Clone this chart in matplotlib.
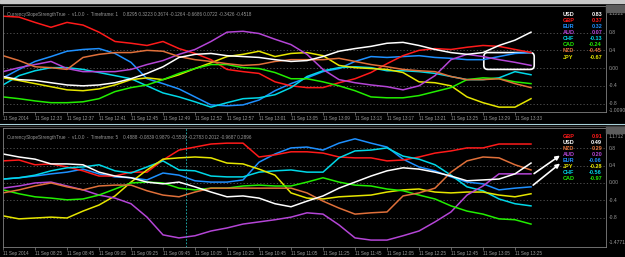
import numpy as np
import matplotlib.pyplot as plt
from matplotlib.patches import FancyBboxPatch, Rectangle

plt.rcParams['font.family'] = ['Liberation Sans', 'DejaVu Sans']

# one reading every second bar
bars = np.arange(34) * 2

# --- top window, timeframe M1 ---
m1_usd = [-0.19, -0.26, -0.28, -0.33, -0.38, -0.40, -0.38, -0.33, -0.24, -0.12, 0.03, 0.24, 0.31, 0.33, 0.28, 0.26, 0.24,
          0.19, 0.15, 0.17, 0.26, 0.38, 0.44, 0.49, 0.56, 0.58, 0.51, 0.42, 0.35, 0.31, 0.35, 0.51, 0.63, 0.81]
m1_gbp = [1.17, 1.15, 1.03, 0.92, 1.03, 0.97, 0.81, 0.60, 0.56, 0.51, 0.60, 0.44, 0.33, 0.19, -0.03, -0.08, -0.12,
          -0.31, -0.40, -0.44, -0.44, -0.33, -0.24, -0.10, 0.10, 0.28, 0.40, 0.44, 0.42, 0.47, 0.51, 0.49, 0.42, 0.35]
m1_eur = [-0.22, -0.03, 0.15, 0.26, 0.38, 0.42, 0.44, 0.33, 0.13, -0.24, -0.35, -0.47, -0.65, -0.83, -0.85, -0.83, -0.72,
          -0.51, -0.35, -0.22, -0.08, -0.01, 0.15, 0.26, 0.24, 0.26, 0.28, 0.24, 0.22, 0.19, 0.19, 0.26, 0.33, 0.35]
m1_aud = [-0.08, 0.01, 0.08, 0.15, -0.01, -0.08, -0.08, -0.08, -0.03, 0.08, 0.17, 0.31, 0.42, 0.60, 0.81, 0.83, 0.78,
          0.65, 0.53, 0.31, -0.03, -0.26, -0.33, -0.38, -0.42, -0.49, -0.40, -0.17, 0.19, 0.31, 0.26, 0.19, 0.13, 0.06]
m1_chf = [-0.38, -0.17, -0.06, 0.01, 0.01, -0.03, -0.10, -0.17, -0.24, -0.40, -0.56, -0.65, -0.76, -0.88, -0.78, -0.69, -0.67,
          -0.60, -0.44, -0.19, -0.06, 0.01, 0.03, 0.01, -0.06, -0.06, -0.08, -0.12, -0.19, -0.26, -0.26, -0.22, -0.08, -0.15]
m1_cad = [-0.65, -0.69, -0.74, -0.78, -0.78, -0.76, -0.69, -0.53, -0.44, -0.38, -0.26, -0.12, -0.01, 0.08, 0.08, 0.01, -0.01,
          -0.10, -0.24, -0.24, -0.31, -0.40, -0.51, -0.65, -0.67, -0.67, -0.62, -0.53, -0.44, -0.26, -0.22, -0.24, -0.31, -0.35]
m1_nzd = [0.28, 0.17, 0.03, 0.01, -0.03, 0.24, 0.31, 0.35, 0.35, 0.40, 0.38, 0.26, 0.19, 0.15, 0.10, 0.06, 0.08,
          0.15, 0.19, 0.19, 0.19, 0.22, 0.15, 0.08, 0.03, -0.03, -0.06, -0.08, -0.19, -0.26, -0.26, -0.24, -0.35, -0.44]
m1_jpy = [-0.22, -0.28, -0.35, -0.42, -0.49, -0.51, -0.47, -0.38, -0.26, -0.22, -0.26, -0.15, -0.01, 0.12, 0.26, 0.31, 0.38,
          0.26, 0.33, 0.35, 0.28, 0.06, 0.01, -0.01, -0.03, -0.10, -0.31, -0.33, -0.40, -0.65, -0.78, -0.88, -0.88, -0.69]

# --- bottom window, timeframe M5 ---
m5_usd = [0.67, 0.60, 0.55, 0.44, 0.44, 0.42, 0.25, 0.16, 0.12, 0.02, -0.02, 0.02, -0.09, -0.21, -0.32, -0.30, -0.35,
          -0.48, -0.55, -0.42, -0.30, -0.12, 0.02, 0.16, 0.28, 0.35, 0.32, 0.25, 0.16, 0.05, 0.07, 0.09, 0.21, 0.46]
m5_gbp = [0.51, 0.53, 0.42, 0.44, 0.37, 0.28, 0.16, 0.16, 0.25, 0.25, 0.53, 0.76, 0.83, 0.90, 0.92, 0.92, 0.60,
          0.65, 0.72, 0.72, 0.69, 0.60, 0.58, 0.58, 0.51, 0.53, 0.60, 0.69, 0.74, 0.81, 0.81, 0.90, 0.90, 0.90]
m5_eur = [0.09, 0.12, 0.16, 0.21, 0.25, 0.32, 0.21, 0.14, 0.12, 0.07, 0.23, 0.18, 0.05, 0.02, 0.02, 0.07, 0.48,
          0.67, 0.81, 0.83, 0.76, 0.92, 1.02, 0.92, 0.83, 0.55, 0.37, 0.28, 0.14, 0.02, -0.02, -0.16, -0.12, -0.09]
m5_aud = [-0.12, -0.07, 0.00, 0.02, -0.07, -0.16, -0.28, -0.35, -0.48, -0.79, -1.20, -1.27, -1.22, -1.11, -1.04, -0.95, -0.90,
          -0.85, -0.79, -0.69, -0.72, -0.97, -1.27, -1.32, -1.32, -1.22, -1.11, -0.90, -0.67, -0.28, -0.07, 0.21, 0.21, 0.21]
m5_chf = [0.09, 0.12, 0.18, 0.28, 0.35, 0.37, 0.42, 0.28, 0.23, 0.37, 0.51, 0.30, 0.28, 0.16, 0.14, 0.14, 0.25,
          0.28, 0.30, 0.25, 0.25, 0.58, 0.74, 0.76, 0.81, 0.62, 0.55, 0.42, 0.18, -0.09, -0.18, -0.37, -0.48, -0.53]
m5_cad = [-0.16, -0.25, -0.32, -0.35, -0.39, -0.37, -0.28, -0.14, 0.00, 0.02, 0.00, -0.12, -0.16, -0.12, -0.12, -0.07, -0.05,
          -0.07, -0.07, 0.02, 0.12, 0.02, -0.05, -0.07, -0.14, -0.18, -0.28, -0.37, -0.53, -0.65, -0.72, -0.83, -0.85, -0.95]
m5_nzd = [-0.23, -0.16, -0.07, 0.00, -0.09, -0.16, -0.07, -0.05, -0.05, -0.18, -0.28, -0.32, -0.21, -0.12, -0.12, -0.12, -0.12,
          -0.12, -0.12, -0.23, -0.42, -0.58, -0.72, -0.69, -0.67, -0.30, -0.23, -0.12, 0.25, 0.51, 0.60, 0.58, 0.42, 0.30]
m5_jpy = [-0.76, -0.83, -0.81, -0.79, -0.81, -0.65, -0.51, -0.30, 0.02, 0.30, 0.55, 0.58, 0.60, 0.58, 0.46, 0.44, 0.32,
          0.18, -0.23, -0.35, -0.37, -0.32, -0.30, -0.28, -0.21, -0.16, -0.14, -0.21, -0.23, -0.21, -0.21, -0.28, -0.32, -0.25]

top_names = ["USD", "GBP", "EUR", "AUD", "CHF", "CAD", "NZD", "JPY"]
top_values = ["0.83", "0.37", "0.32", "0.07", "-0.13", "-0.24", "-0.45", "-0.67"]
bot_names = ["GBP", "USD", "NZD", "AUD", "EUR", "JPY", "CHF", "CAD"]
bot_values = ["0.91", "0.49", "0.29", "0.20", "-0.06", "-0.28", "-0.56", "-0.97"]

top_times = ["11 Sep 2014", "11 Sep 12:33", "11 Sep 12:37", "11 Sep 12:41", "11 Sep 12:45", "11 Sep 12:49",
             "11 Sep 12:52", "11 Sep 12:57", "11 Sep 13:01", "11 Sep 13:05", "11 Sep 13:09", "11 Sep 13:13",
             "11 Sep 13:17", "11 Sep 13:21", "11 Sep 13:25", "11 Sep 13:29", "11 Sep 13:33"]
bot_times = ["11 Sep 2014", "11 Sep 08:25", "11 Sep 08:45", "11 Sep 09:05", "11 Sep 09:25", "11 Sep 09:45",
             "11 Sep 10:05", "11 Sep 10:25", "11 Sep 10:45", "11 Sep 11:05", "11 Sep 11:25", "11 Sep 11:45",
             "11 Sep 12:05", "11 Sep 12:25", "11 Sep 12:45", "11 Sep 13:05", "11 Sep 13:25"]

top_header = ("CurrencySlopeStrengthTrue  -  v1.0.0  -  Timeframe: 1    "
              "0.8295 0.3223 0.3674 -0.1264 -0.6686 0.0722 -0.3426 -0.4518")
bot_header = ("CurrencySlopeStrengthTrue  -  v1.0.0  -  Timeframe: 5    "
              "0.4888 -0.0839 0.9879 -0.5539 -0.2783 0.2012 -0.9687 0.2896")

colors = {
    "USD": "#ffffff", "GBP": "#ff1a1a", "EUR": "#1e90ff", "AUD": "#b445d6",
    "CHF": "#00d8e8", "CAD": "#22ee00", "NZD": "#e0703a", "JPY": "#e6e600",
}
GRAY = "#9a9a9a"
W, H = 625, 257

fig = plt.figure(figsize=(W / 100, H / 100), dpi=100, facecolor="black")


def px_axes(x0, y0, x1, y1):
    return fig.add_axes([x0 / W, 1 - y1 / H, (x1 - x0) / W, (y1 - y0) / H])


def draw_panel(ax, series, ylim, times, header, top_lbl, bot_lbl):
    ax.set_facecolor("black")
    for name in ["EUR", "GBP", "CHF", "JPY", "AUD", "CAD", "NZD", "USD"]:
        ax.plot(bars, series[name], color=colors[name], lw=1.1, solid_joinstyle="round")
    for lvl in [0.8, 0.4, 0.0, -0.4, -0.8]:
        ax.axhline(lvl, color="#5a5a5a", lw=0.6, ls=(0, (1.5, 2.5)), zorder=0)
        lab = "0.00" if lvl == 0 else f"{lvl:g}"
        ax.text(1.004, lvl, lab, transform=ax.get_yaxis_transform(), fontsize=3.6,
                color=GRAY, va="center", ha="left", clip_on=False)
    ax.text(1.004, top_lbl[1], top_lbl[0], transform=ax.transAxes, fontsize=3.6,
            color=GRAY, va="center", ha="left")
    ax.text(1.004, bot_lbl[1], bot_lbl[0], transform=ax.transAxes, fontsize=3.6,
            color=GRAY, va="center", ha="left")
    ax.set_xlim(0, 603 / 8)
    ax.set_ylim(*ylim)
    ax.set_yticks([])
    ax.set_xticks(np.arange(len(times)) * 4)
    ax.set_xticklabels(times, ha="left", fontsize=3.3, color=GRAY)
    ax.tick_params(axis="x", length=2, width=0.5, pad=1.2, color="#808080", direction="out")
    for sp in ax.spines.values():
        sp.set_color("#808080")
        sp.set_linewidth(0.6)
    ax.text(0.007, 0.92, header, transform=ax.transAxes, fontsize=3.3, color=GRAY, va="center")


ax1 = px_axes(3, 6, 606, 112)
draw_panel(ax1, {"USD": m1_usd, "GBP": m1_gbp, "EUR": m1_eur, "AUD": m1_aud, "CHF": m1_chf,
                 "CAD": m1_cad, "NZD": m1_nzd, "JPY": m1_jpy},
           (-0.99, 1.40), top_times, top_header, ("1.1222", 0.925), ("-1.0090", 0.01))

ax2 = px_axes(3, 128, 606, 247)
draw_panel(ax2, {"USD": m5_usd, "GBP": m5_gbp, "EUR": m5_eur, "AUD": m5_aud, "CHF": m5_chf,
                 "CAD": m5_cad, "NZD": m5_nzd, "JPY": m5_jpy},
           (-1.48, 1.27), bot_times, bot_header, ("1.1712", 0.93), ("-1.4771", 0.034))
ax2.axvline(22.9, color="#20c0c0", lw=0.6, ls=(0, (2, 2)))

# legend tables on the right
for k, (n, v) in enumerate(zip(top_names, top_values)):
    y = 1 - (14 + 6.15 * k) / H
    fig.text(563 / W, y, n, color=colors[n], fontsize=4, va="center", ha="left", weight="bold")
    fig.text(602 / W, y, v, color=colors[n], fontsize=4, va="center", ha="right", weight="bold")
for k, (n, v) in enumerate(zip(bot_names, bot_values)):
    y = 1 - (136 + 6.0 * k) / H
    fig.text(563 / W, y, n, color=colors[n], fontsize=4, va="center", ha="left", weight="bold")
    fig.text(602 / W, y, v, color=colors[n], fontsize=4, va="center", ha="right", weight="bold")

# highlight box (top) and arrows (bottom)
box = FancyBboxPatch((60.1, -0.03), 6.3, 0.38, boxstyle="round,pad=0,rounding_size=0.5",
                     mutation_aspect=8 / 44, fill=False, ec="white", lw=1.2, clip_on=False)
ax1.add_patch(box)
for (x0, y0), (x1, y1) in [((66.1, 0.18), (69.9, 0.67)), ((66.0, -0.09), (69.9, 0.49))]:
    ax2.annotate("", xy=(x1, y1), xytext=(x0, y0),
                 arrowprops=dict(arrowstyle="-|>", color="white", lw=1.2, mutation_scale=6))

# window chrome
fig.add_artist(Rectangle((0, 1 - 3 / H), 1, 3 / H, transform=fig.transFigure, color="#c8c8c8"))
fig.add_artist(plt.Line2D([0, 1], [1 - 123.5 / H] * 2, transform=fig.transFigure, color="#a8d0d8", lw=0.8))
fig.add_artist(plt.Line2D([0, 1], [1 - 126 / H] * 2, transform=fig.transFigure, color="#404040", lw=0.8))
for yy in [5, 126]:
    fig.add_artist(Rectangle((606 / W, 1 - (yy + 7) / H), 19 / W, 7 / H, transform=fig.transFigure,
                             color="#5c5c5c"))

fig.savefig("out.png", dpi=100, facecolor="black")
